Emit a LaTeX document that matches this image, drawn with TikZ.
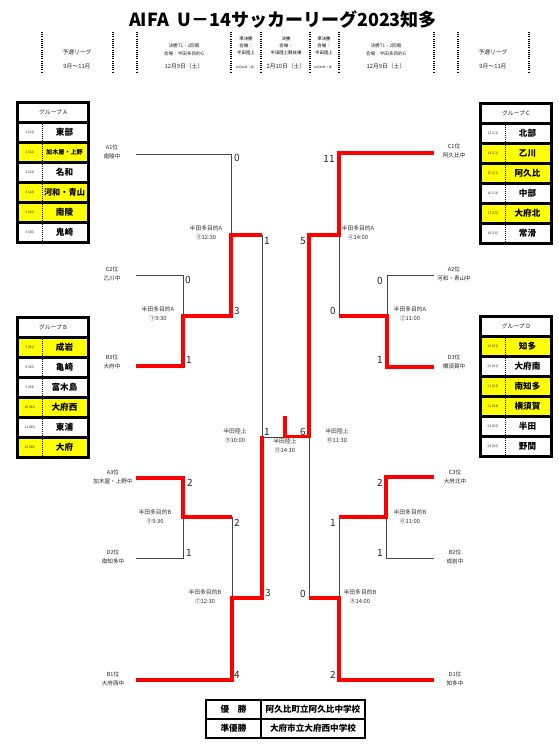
\documentclass[tikz,border=0pt]{standalone}
\usepackage{fontspec}
\setmainfont{Noto Sans CJK JP}
\definecolor{lgr}{RGB}{70,70,70}
\definecolor{yel}{RGB}{255,255,0}
\definecolor{wred}{RGB}{255,0,0}
\newcommand\grouptable[5]{%
 \begin{scope}[shift={(#2,#3)}]
  \fill[black] (0,0) rectangle (74,143);
  \fill[white] (3,3) rectangle (71,20);
  \node[ghead] (#1h) at (37,11.5) {#4};
  \foreach \i/\lab/\tm/\col/\fs in {#5} {
    \pgfmathsetmacro\ytop{23+(\i-1)*20}
    \fill[\col] (3,\ytop) rectangle (71,\ytop+17);
    \draw[black,line width=0.9pt,dash pattern=on 1pt off 1pt] (26,\ytop) -- (26,\ytop+17);
    \node[rlab] (#1l\i) at (14,\ytop+8.5) {\lab};
    \node[inner sep=0,font=\bfseries\fontsize{\fs}{\fs}\selectfont] (#1t\i) at (48.5,\ytop+8.5) {\tm};
  }
 \end{scope}}
\begin{document}
\begin{tikzpicture}[x=1pt,y=-1pt,
  lose/.style={draw=lgr,line width=0.9pt},
  win/.style={draw=wred,line width=3.5pt,line join=miter},
  score/.style={font=\fontsize{10}{10}\selectfont, text=black!85, inner sep=0},
  team/.style={font=\fontsize{5.6}{8.5}\selectfont, align=center, inner sep=0, text=black!85},
  match/.style={font=\fontsize{5.8}{9}\selectfont, align=center, inner sep=0, text=black!80},
  hdr/.style={font=\fontsize{5.8}{7}\selectfont, align=center, inner sep=0, text=black!85},
  hdrs/.style={font=\fontsize{4.6}{7}\selectfont, align=center, inner sep=0, text=black!85},
  ghead/.style={font=\fontsize{5.8}{6}\selectfont, inner sep=0, text=black!85},
  rlab/.style={font=\fontsize{3.4}{4}\selectfont, inner sep=0, text=black!80},
  vdots/.style={draw=black, line width=1.1pt, dash pattern=on 1.1pt off 1.1pt},
  cell/.style={font=\bfseries\fontsize{8.6}{9}\selectfont, inner sep=0},
 ]
\path[use as bounding box, fill=white] (0,0) rectangle (558,746);

% title
\node[font=\bfseries\fontsize{18}{19}\selectfont, inner sep=0] (title) at (283,20) {AIFA\ \ U－14サッカーリーグ2023知多};

% header dotted separators
\foreach \x [count=\k] in {42,113,137,231,261,310,339,434,458,529}
  \draw[vdots] (\x,32) -- (\x,73);
% header texts
\node[hdr] (h1a) at (77,52) {予選リーグ};
\node[hdr] (h1b) at (77,66) {9月～11月};
\node[hdrs] (h2a) at (184,46) {決勝T1・2回戦};
\node[hdrs] (h2b) at (184,54) {会場：半田多目的G};
\node[hdr] (h2c) at (184,66) {12月9日（土）};
\node[font=\fontsize{4.4}{7}\selectfont, align=center, inner sep=0] (h3a) at (246,46) {準決勝\\会場：\\半田陸上};
\node[font=\fontsize{2.8}{3}\selectfont, inner sep=0] (h3b) at (246,67) {12月10日（日）};
\node[font=\fontsize{4.4}{7}\selectfont, align=center, inner sep=0] (h4a) at (286,46) {決勝\\会場：\\半田陸上競技場};
\node[hdr] (h4b) at (286,66) {2月10日（土）};
\node[font=\fontsize{4.4}{7}\selectfont, align=center, inner sep=0] (h5a) at (324,46) {準決勝\\会場：\\半田陸上};
\node[font=\fontsize{2.8}{3}\selectfont, inner sep=0] (h5b) at (324,67) {12月10日（日）};
\node[hdrs] (h6a) at (386,46) {決勝T1・2回戦};
\node[hdrs] (h6b) at (386,54) {会場：半田多目的G};
\node[hdr] (h6c) at (386,66) {12月9日（土）};
\node[hdr] (h7a) at (493,52) {予選リーグ};
\node[hdr] (h7b) at (493,66) {9月～11月};

% group tables
\grouptable{gA}{16}{101}{グループ A}{1/1 (A1)/東部/white/8.6, 2/2 (A2)/加木屋・上野/yel/6.1, 3/3 (A3)/名和/white/8.6, 4/4 (A4)/河和・青山/yel/8.2, 5/5 (A5)/南陵/yel/8.6, 6/6 (A6)/鬼崎/white/8.6}
\grouptable{gB}{16}{316}{グループ B}{1/7 (B1)/成岩/yel/8.6, 2/8 (B2)/亀崎/white/8.6, 3/9 (B3)/富木島/white/8.6, 4/10 (B4)/大府西/yel/8.6, 5/11 (B5)/東浦/white/8.6, 6/12 (B6)/大府/yel/8.6}
\grouptable{gC}{479}{102}{グループ C}{1/13 (C1)/北部/white/8.6, 2/14 (C2)/乙川/yel/8.6, 3/15 (C3)/阿久比/yel/8.6, 4/16 (C4)/中部/white/8.6, 5/17 (C5)/大府北/yel/8.6, 6/18 (C6)/常滑/white/8.6}
\grouptable{gD}{479}{315}{グループ D}{1/19 (D1)/知多/yel/8.6, 2/20 (D2)/大府南/white/8.6, 3/21 (D3)/南知多/yel/8.6, 4/22 (D4)/横須賀/yel/8.6, 5/23 (D5)/半田/white/8.6, 6/24 (D6)/野間/white/8.6}

% team labels
\node[team] (lA1) at (112,152) {A1位\\南陵中};
\node[team] (lC2) at (112,274) {C2位\\乙川中};
\node[team] (lB3) at (112,362) {B3位\\大府中};
\node[team] (lA3) at (113,477) {A3位\\加木屋・上野中};
\node[team] (lD2) at (113,557) {D2位\\南知多中};
\node[team] (lB1) at (113,679) {B1位\\大府西中};
\node[team] (lC1) at (454,151) {C1位\\阿久比中};
\node[team] (lA2) at (454,274) {A2位\\河和・青山中};
\node[team] (lD3) at (454,362) {D3位\\横須賀中};
\node[team] (lC3) at (455,477) {C3位\\大府北中};
\node[team] (lB2) at (455,557) {B2位\\成岩中};
\node[team] (lD1) at (455,679) {D1位\\知多中};

% bracket coordinates
\coordinate (pA1) at (136,154);  \coordinate (pC2) at (136,275);  \coordinate (pB3) at (136,366);
\coordinate (pA3) at (136,478);  \coordinate (pD2) at (136,558);  \coordinate (pB1) at (136,680);
\coordinate (pC1) at (434,153);  \coordinate (pA2) at (434,275);  \coordinate (pD3) at (434,367);
\coordinate (pC3) at (434,477);  \coordinate (pB2) at (434,558);  \coordinate (pD1) at (434,680);
\coordinate (m1) at (183,316);   \coordinate (m3) at (231,235);
\coordinate (m2) at (387,316);   \coordinate (m4) at (339,235);
\coordinate (m5) at (183,517);   \coordinate (m7) at (232,598);
\coordinate (m6) at (386,517);   \coordinate (m8) at (339,598);
\coordinate (s1) at (262,437);   \coordinate (s2) at (309,437);
\coordinate (fin) at (285,437);  \coordinate (champ) at (285,416);

% losing (thin) lines
\draw[lose] (pA1) -| (m3);
\draw[lose] (pC2) -| (m1);
\draw[lose] (m3 -| s1) -- (s1) -- (s2);
\draw[lose] (pD2) -| (m5);
\draw[lose] (m5 -| m7) -- (m7);
\draw[lose] (m4) -- (m4 |- m2);
\draw[lose] (pA2) -| (m2);
\draw[lose] (pB2) -| (m6);
\draw[lose] (m6 -| m8) -- (m8);
\draw[lose] (s2) -- (m8 -| s2);

% winning (red) paths
\draw[win] (pB3) -| (m1) -- (m1 -| m3) -- (m3) -- (m3 -| s1);
\draw[win] (pA3) -| (m5) -- (m5 -| m7);
\draw[win] (pB1) -| (m7) -- (m7 -| s1) -- ([yshift=1.5pt]s1);
\draw[win] (pC1) -| (m4) -- (m4 -| s2) -- ([yshift=0.6pt]s2) -- ([yshift=0.6pt]fin) -- (champ);
\draw[win] (pD3) -| (m2) -- (m2 -| m4);
\draw[win] (pC3) -| (m6) -- (m6 -| m8);
\draw[win] (pD1) -| (m8) -- (m8 -| s2);

% scores
\node[score] (sc1) at (237,158) {0};
\node[score] (sc2) at (188,280) {0};
\node[score] (sc3) at (189,360) {1};
\node[score] (sc4) at (237,311) {3};
\node[score] (sc5) at (267,241) {1};
\node[score] (sc6) at (190,483) {2};
\node[score] (sc7) at (189,553) {1};
\node[score] (sc8) at (237,523) {2};
\node[score] (sc9) at (237,675) {4};
\node[score] (sc10) at (268,593) {3};
\node[score] (sc11) at (267,432) {1};
\node[score] (sc12) at (329,159) {11};
\node[score] (sc13) at (303,241) {5};
\node[score] (sc14) at (333,311) {0};
\node[score] (sc15) at (380,281) {0};
\node[score] (sc16) at (380,360) {1};
\node[score] (sc17) at (303,432) {6};
\node[score] (sc18) at (380,483) {2};
\node[score] (sc19) at (380,553) {1};
\node[score] (sc20) at (333,523) {1};
\node[score] (sc21) at (333,675) {2};
\node[score] (sc22) at (303,594) {0};

% match labels
\node[match] (mt1) at (158,314) {半田多目的A\\①9:30};
\node[match] (mt3) at (206,233) {半田多目的A\\③12:30};
\node[match] (mt4) at (358,233) {半田多目的A\\④14:00};
\node[match] (mt2) at (410,314) {半田多目的A\\②11:00};
\node[match] (mt5) at (155,517) {半田多目的B\\⑤9:30};
\node[match] (mt7) at (205,597) {半田多目的B\\⑦12:30};
\node[match] (mt6) at (410,517) {半田多目的B\\⑥11:00};
\node[match] (mt8) at (360,597) {半田多目的B\\⑧14:00};
\node[match] (mt9) at (235,436) {半田陸上\\⑨10:00};
\node[match] (mt10) at (337,436) {半田陸上\\⑩11:30};
\node[match] (mt11) at (285,446) {半田陸上\\⑪14:30};

% result table
\draw[line width=1.2pt] (261,700) -- (261,738);
\draw[line width=1.2pt] (206,719) -- (365,719);
\draw[line width=2.4pt] (206,700) rectangle (365,738);
\node[cell] (r1a) at (233.5,709.5) {優　勝};
\node[cell] (r1b) at (313,709.5) {阿久比町立阿久比中学校};
\node[cell] (r2a) at (233.5,728.5) {準優勝};
\node[cell] (r2b) at (313,728.5) {大府市立大府西中学校};
\end{tikzpicture}
\end{document}
